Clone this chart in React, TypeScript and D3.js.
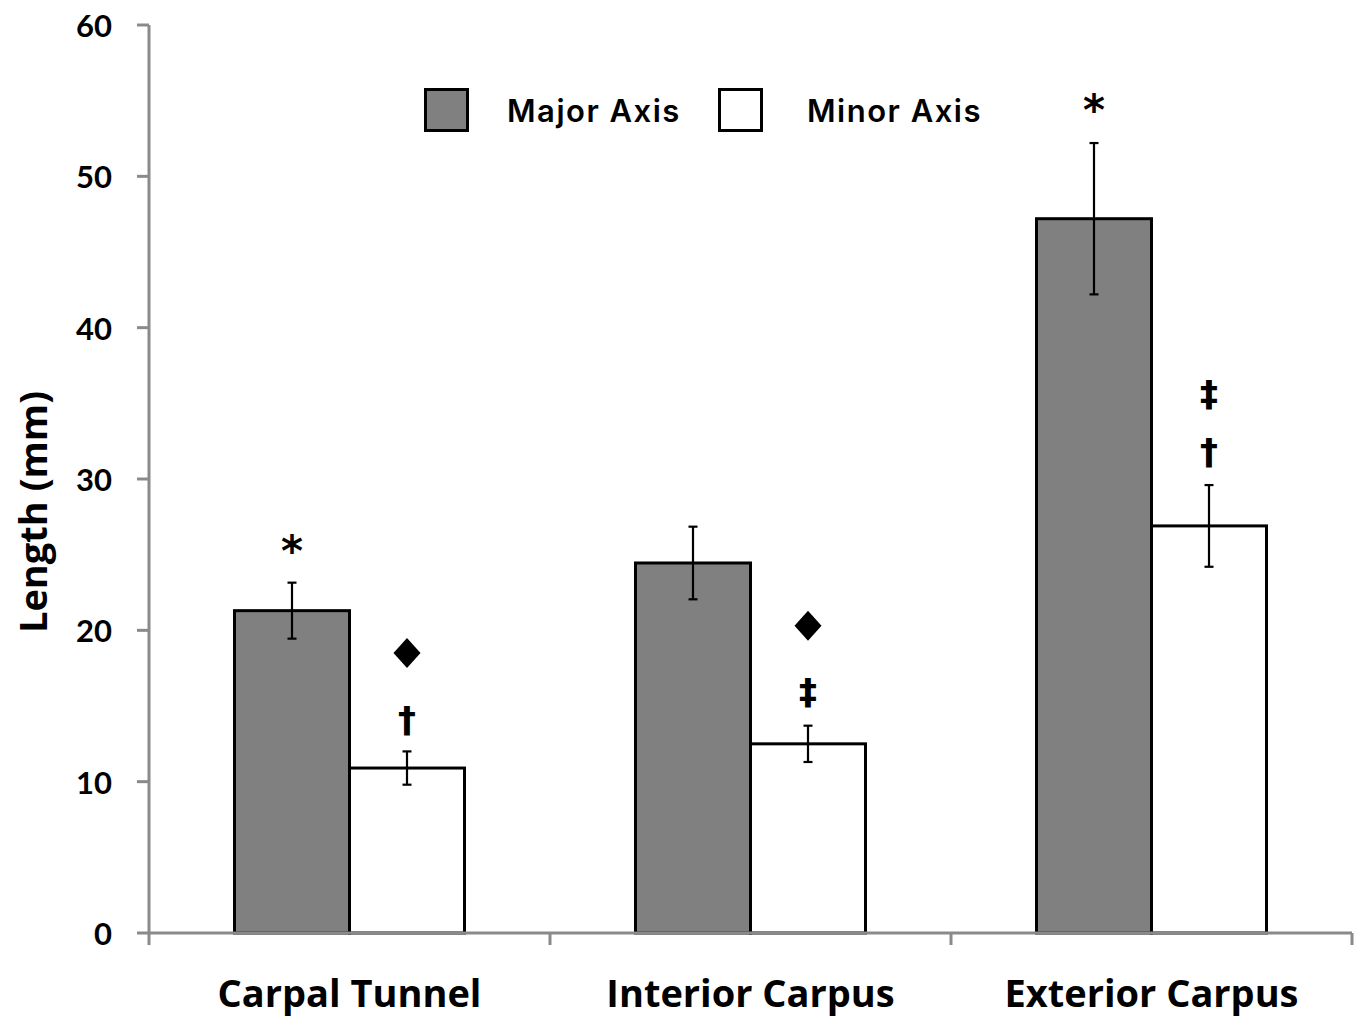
import React from "react";
import * as d3 from "d3";

const categories = ["Carpal Tunnel", "Interior Carpus", "Exterior Carpus"];
const seriesNames = ["Major Axis", "Minor Axis"];
const majorValues = [21.3, 24.45, 47.2];
const majorErrors = [1.85, 2.4, 5.0];
const minorValues = [10.9, 12.5, 26.9];
const minorErrors = [1.1, 1.2, 2.7];
const yTicks = [0, 10, 20, 30, 40, 50, 60];

// significance markers: category index, series index, glyph, y value (data units)
const markerCats = [0, 0, 0, 1, 1, 2, 2, 2];
const markerSeries = [0, 1, 1, 1, 1, 0, 1, 1];
const markerGlyphs = ["*", "diamond", "†", "diamond", "‡", "*", "‡", "†"];
const markerValues = [25.6, 18.5, 14.1, 20.3, 15.9, 54.7, 35.6, 31.8];

const W = 1360;
const H = 1019;
const left = 149;
const right = 1352;
const top = 25;
const bottom = 933;
const axisColor = "#8a8a8a";
const font = "Lato, 'Open Sans', sans-serif";
const labelFont = "'Open Sans', sans-serif";

export default function App() {
  const y = d3.scaleLinear().domain([0, 60]).range([bottom, top]);
  const p = 171 / 401;
  const x = d3
    .scaleBand<string>()
    .domain(categories)
    .range([left, right])
    .paddingInner(p)
    .paddingOuter(p / 2);
  const xs = d3.scaleBand<string>().domain(seriesNames).range([0, x.bandwidth()]);
  const fills = ["#808080", "#ffffff"];
  const values = [majorValues, minorValues];
  const errors = [majorErrors, minorErrors];
  const step = x.step();
  const boundaries = d3.range(categories.length + 1).map((i) => left + i * step);

  const cap = 4.5;

  return (
    <svg
      width={W}
      height={H}
      style={{ position: "absolute", left: 0, top: 0, background: "#fff" }}
      fontFamily={font}
    >
      {/* bars */}
      {seriesNames.map((s, si) =>
        categories.map((c, ci) => {
          const bx = (x(c) as number) + (xs(s) as number);
          const v = values[si][ci];
          return (
            <rect
              key={`b-${si}-${ci}`}
              x={bx}
              y={y(v)}
              width={xs.bandwidth()}
              height={y(0) - y(v)}
              fill={fills[si]}
              stroke="#000"
              strokeWidth={3}
            />
          );
        })
      )}
      {/* axes */}
      <line x1={left} x2={left} y1={top} y2={bottom + 1.5} stroke={axisColor} strokeWidth={3} />
      <line x1={left - 1.5} x2={right} y1={bottom} y2={bottom} stroke={axisColor} strokeWidth={3} />
      {yTicks.map((t) => (
        <g key={`yt-${t}`}>
          <line x1={left - 12} x2={left} y1={y(t)} y2={y(t)} stroke={axisColor} strokeWidth={3} />
          <text
            x={112}
            y={y(t)}
            textAnchor="end"
            dominantBaseline="central"
            fontSize={31}
            fontWeight={700}
            fill="#000"
          >
            {t}
          </text>
        </g>
      ))}
      {boundaries.map((bx, i) => (
        <line key={`xt-${i}`} x1={bx} x2={bx} y1={bottom} y2={bottom + 12} stroke={axisColor} strokeWidth={3} />
      ))}
      {categories.map((c) => (
        <text
          key={`xl-${c}`}
          x={(x(c) as number) + x.bandwidth() / 2}
          y={1007}
          textAnchor="middle"
          fontSize={38}
          fontWeight={700}
          fontFamily={labelFont}
          fill="#000"
        >
          {c}
        </text>
      ))}
      <text
        transform={`translate(47, ${(top + bottom) / 2 + 33}) rotate(-90)`}
        textAnchor="middle"
        fontSize={38}
        fontWeight={700}
        fontFamily={labelFont}
        fill="#000"
      >
        Length (mm)
      </text>
      {/* error bars */}
      {seriesNames.map((s, si) =>
        categories.map((c, ci) => {
          const cx = (x(c) as number) + (xs(s) as number) + xs.bandwidth() / 2;
          const v = values[si][ci];
          const e = errors[si][ci];
          return (
            <g key={`e-${si}-${ci}`} stroke="#000" strokeWidth={2.2}>
              <line x1={cx} x2={cx} y1={y(v + e)} y2={y(v - e)} />
              <line x1={cx - cap} x2={cx + cap} y1={y(v + e)} y2={y(v + e)} />
              <line x1={cx - cap} x2={cx + cap} y1={y(v - e)} y2={y(v - e)} />
            </g>
          );
        })
      )}
      {/* markers */}
      {markerGlyphs.map((g, i) => {
        const c = categories[markerCats[i]];
        const s = seriesNames[markerSeries[i]];
        const cx = (x(c) as number) + (xs(s) as number) + xs.bandwidth() / 2;
        const cy = y(markerValues[i]);
        if (g === "diamond") {
          const hw = 13.5;
          const hh = 15;
          return (
            <path
              key={`m-${i}`}
              d={`M${cx},${cy - hh}L${cx + hw},${cy}L${cx},${cy + hh}L${cx - hw},${cy}Z`}
              fill="#000"
            />
          );
        }
        const isStar = g === "*";
        return (
          <text
            key={`m-${i}`}
            x={cx}
            y={cy}
            dy={isStar ? 20 : 12}
            textAnchor="middle"
            fontSize={isStar ? 42 : 36}
            fontWeight={700}
            fontFamily="'DejaVu Sans', sans-serif"
            fill="#000"
          >
            {g}
          </text>
        );
      })}
      {/* legend */}
      <rect x={425.5} y={89.5} width={42} height={41} fill="#808080" stroke="#000" strokeWidth={3} />
      <text x={507} y={110} dominantBaseline="central" fontSize={31} fontWeight={600} fontFamily="Inter, sans-serif" letterSpacing={1.5} fill="#000">
        {seriesNames[0]}
      </text>
      <rect x={719.5} y={89.5} width={42} height={41} fill="#ffffff" stroke="#000" strokeWidth={3} />
      <text x={807} y={110} dominantBaseline="central" fontSize={31} fontWeight={600} fontFamily="Inter, sans-serif" letterSpacing={1.5} fill="#000">
        {seriesNames[1]}
      </text>
    </svg>
  );
}
